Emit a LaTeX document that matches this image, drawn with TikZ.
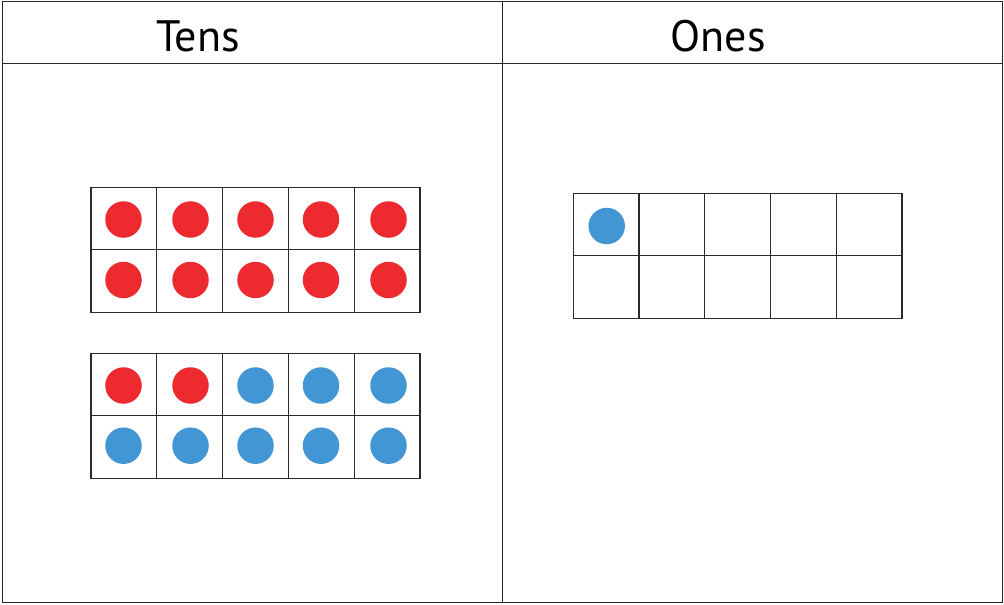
\documentclass[tikz,border=0pt]{standalone}
\usepackage{fontspec}
\setmainfont{PT Sans}
\definecolor{dotred}{HTML}{EC2A2F}
\definecolor{dotblue}{HTML}{4196D3}
\definecolor{gridline}{HTML}{2A2A2A}
\tikzset{
  frameline/.style={draw=black!85, line width=1.2pt},
  gridcell/.style={draw=gridline, line width=1.1pt},
  reddot/.style={circle, fill=dotred, inner sep=0pt, minimum size=36.5pt},
  bluedot/.style={circle, fill=dotblue, inner sep=0pt, minimum size=36.5pt},
  heading/.style={font=\fontsize{44}{48}\selectfont, inner sep=0pt, anchor=base}
}
\begin{document}
\begin{tikzpicture}[x=1pt,y=-1pt]
\useasboundingbox (0,0) rectangle (1004,605);
\fill[white] (0,0) rectangle (1004,605);
% frame
\draw[frameline] (2.5,1.2) rectangle (1002.3,602.8);
\draw[frameline] (2.5,63.5) -- (1002.3,63.5);
\draw[frameline] (502.3,1.2) -- (502.3,602.8);
\node[heading] (tens) at (198,51.5) {Tens};
\node[heading] (ones) at (718,51.5) {Ones};
% ten frame 1
\foreach \i in {0,...,4} {
  \foreach \j in {0,1} {
    \draw[gridcell] ({91+65.8*\i},{187.5+62.3*\j}) rectangle ++(65.8,62.3);
  }
}
% ten frame 2
\foreach \i in {0,...,4} {
  \foreach \j in {0,1} {
    \draw[gridcell] ({91+65.8*\i},{353.5+62.4*\j}) rectangle ++(65.8,62.4);
  }
}
% ones frame
\foreach \i in {0,...,4} {
  \foreach \j in {0,1} {
    \draw[gridcell] ({573.3+65.74*\i},{193.3+62.5*\j}) rectangle ++(65.74,62.5);
  }
}
% dots frame 1
\foreach \x [count=\k] in {123.5,190.5,255.5,321,388.5} {
  \node[reddot] (a\k) at (\x,219.5) {};
  \node[reddot] (b\k) at (\x,280) {};
}
% dots frame 2
\foreach \x [count=\k] in {123.5,190.5} {
  \node[reddot] (c\k) at (\x,385.5) {};
}
\foreach \x [count=\k from 3] in {255.5,321,388.5} {
  \node[bluedot] (c\k) at (\x,385.5) {};
}
\foreach \x [count=\k] in {123.5,190.5,255.5,321,388.5} {
  \node[bluedot] (d\k) at (\x,445.7) {};
}
% ones dot
\node[bluedot] (o1) at (606.7,226) {};
\end{tikzpicture}
\end{document}
